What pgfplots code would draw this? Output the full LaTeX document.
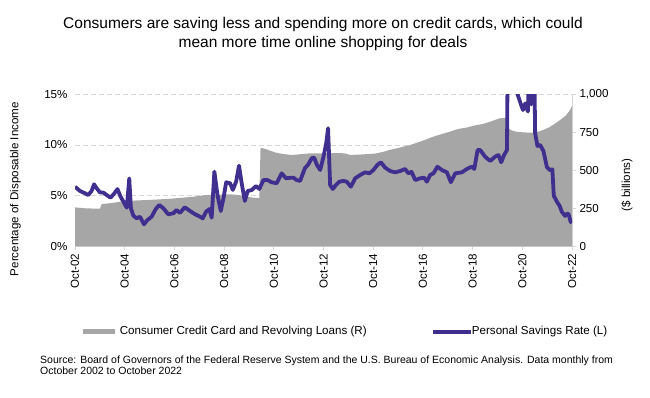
\documentclass[border=0pt]{standalone}
\usepackage{fontspec}
\setmainfont{Liberation Sans}
\usepackage{pgfplots}
\pgfplotsset{compat=1.18}
\definecolor{savp}{RGB}{64,47,142}
\definecolor{credg}{RGB}{166,166,166}
\definecolor{gridc}{RGB}{215,215,215}
\newcommand{\fs}[2]{\fontsize{#1}{#2}\selectfont}

\pgfplotstableread{
m v
0 256
5 250
12 247
12.9 278
18 285
24 298
30 302
36 305
41 309
48 315
57 326
63 337
70 340
73 342
76 341
79 337
82 330
85 322
89 316
89.6 649
92 640
97 616
101 606
105 601
109 606
113 611
120 612
126 613
130 612
133 601
138 604
145 610
149 622
152 634
157 650
162 667
167 690
173 721
177 738
181 754
185 772
189 781
193 795
197 805
201 822
205 842
208 846
209 776
211 762
213 754
217 749
221 748
224 755
226 765
229 783
231 800
234 828
237 860
239 895
240 925
}\credit

\pgfplotstableread{
m v
0 5.88
2.4 5.46
4.8 5.23
6.4 5.06
8 5.46
9.2 6.12
10.5 5.72
12 5.33
13.7 5.30
15.3 5.06
17.2 4.80
19 5.23
20.5 5.65
22 4.90
23.4 4.40
25 3.81
26.2 6.70
27 3.75
28.2 3.02
29.8 2.76
31.4 2.92
33.3 2.17
35 2.60
37 2.92
39 3.68
40.7 4.08
42.7 3.75
45 3.16
47.5 3.26
49 3.58
50.7 3.30
53 3.85
55.6 3.48
58 3.16
60.4 2.92
61.7 2.76
63.3 3.42
64.9 3.68
66 2.82
67.3 7.37
68.8 5.06
70.4 3.48
71.7 4.74
73 6.32
74.9 6.22
76.2 5.56
77.8 6.38
79.2 7.96
80.5 6.22
82 4.47
83.4 5.46
85.4 5.56
87.4 5.95
89 5.66
91 6.54
92.9 6.54
95 6.32
97.4 6.22
99.8 7.20
101.9 6.71
104.2 6.77
105.5 6.77
107 6.54
108.7 6.45
111 7.70
112.7 8.09
114.3 8.69
115.5 8.75
116.8 8.03
118.4 7.53
120 8.85
121.3 10.17
122.2 11.65
123.2 6.05
124.5 5.66
126 6.05
127.7 6.38
129.6 6.45
131.2 6.38
133.2 5.88
135.3 6.71
137.7 7.04
140.1 7.30
142.2 7.20
144.1 7.53
146 8.03
147.7 8.29
149.8 7.76
152.2 7.43
154.6 7.30
157 7.43
159.4 7.63
161 7.20
162.5 7.35
164.3 6.54
166.7 6.71
168.6 6.77
169.9 6.38
171.5 7.04
173.1 7.20
175 7.86
177.1 7.53
179.6 7.30
181.5 6.32
183.6 7.20
186.8 7.30
189.2 7.63
191.6 7.86
192.8 7.63
194.4 9.50
195.7 9.50
198 8.85
200.5 8.42
202.9 8.85
204.5 9.01
205.8 8.29
207.2 9.01
208.6 9.50
209.5 33.8
210.5 24.1
211.5 19.2
212.5 18.5
213.4 15.2
215 14.2
216.3 13.45
217.4 14.10
218.7 13.30
219.5 19.9
220.3 14.0
221.2 26.6
222.2 11.15
223.3 9.90
224.6 10.00
226.2 9.40
227.9 7.80
229.5 7.50
230.5 7.60
231.2 5.00
232.7 4.40
234 4.00
235.1 3.40
236.7 3.00
237.5 3.20
238.3 3.20
239.3 2.45
240 2.30
}\savings

\begin{document}
\begin{tikzpicture}[x=1bp,y=1bp]
\useasboundingbox (0,0) rectangle (650,-397);
\pgfplotsset{
  base/.style={
    at={(75bp,-246.3bp)}, anchor=south west, scale only axis,
    width=497bp, height=152bp, xmin=0, xmax=240,
    /pgf/number format/assume math mode=true,
    tick label style={font=\fs{11.6bp}{13bp}},
  }
}
% grid + left axis + x axis
\begin{axis}[base, ymin=0, ymax=15,
  axis x line*=bottom, axis y line*=left,
  y axis line style={draw=none},
  x axis line style={gridc, line width=1bp},
  ytick={0,5,10,15},
  yticklabel={\pgfmathprintnumber{\tick}\%},
  ymajorgrids, grid style={gridc, line width=0.9bp, dash pattern=on 4.5bp off 3.5bp},
  ytick style={draw=none},
  xtick={0,24,...,240},
  xticklabels={Oct-02,Oct-04,Oct-06,Oct-08,Oct-10,Oct-12,Oct-14,Oct-16,Oct-18,Oct-20,Oct-22},
  x tick label style={rotate=90, anchor=east},
  xtick style={gridc, line width=0.9bp},
  tick align=outside, major tick length=4bp,
]
\end{axis}
% right axis with credit area
\begin{axis}[base, ymin=0, ymax=1000,
  axis x line=none, axis y line*=right,
  y axis line style={gridc, line width=1bp},
  ytick={0,250,500,750,1000},
  ytick style={gridc, line width=0.9bp},
  tick align=outside, major tick length=4bp,
]
\addplot[fill=credg, draw=none] table[x=m, y=v] {\credit} \closedcycle;
\end{axis}
% savings rate line
\begin{axis}[base, ymin=0, ymax=15, hide axis, clip=true]
\addplot[savp, line width=3.8bp, line join=round] table[x=m, y=v] {\savings};
\end{axis}

% title
\node[align=center, font=\fs{15.5bp}{18.5bp}, inner sep=0] at (323,-34) {Consumers are saving less and spending more on credit cards, which could\\mean more time online shopping for deals};
% axis titles
\node[rotate=90, font=\fs{11.6bp}{13bp}, inner sep=0] at (15.5,-189) {Percentage of Disposable Income};
\node[rotate=90, font=\fs{11.6bp}{13bp}, inner sep=0] at (627,-185) {(\$ billions)};
% legend
\fill[credg] (82.5,-329.3) rectangle (114.6,-334.1);
\node[anchor=west, font=\fs{11.6bp}{13bp}, inner sep=0] at (119.6,-331.7) {Consumer Credit Card and Revolving Loans (R)};
\draw[savp, line width=3.8bp] (433,-331.7) -- (470.5,-331.7);
\node[anchor=west, font=\fs{11.6bp}{13bp}, inner sep=0] at (471.7,-331.7) {Personal Savings Rate (L)};
% source
\node[anchor=base west, align=left, font=\fs{10.5bp}{11bp}, inner sep=0] at (40,-374.5) {Source: Board of Governors of the Federal Reserve System and the U.S. Bureau of Economic Analysis. Data monthly from\\October 2002 to October 2022};
\end{tikzpicture}
\end{document}
